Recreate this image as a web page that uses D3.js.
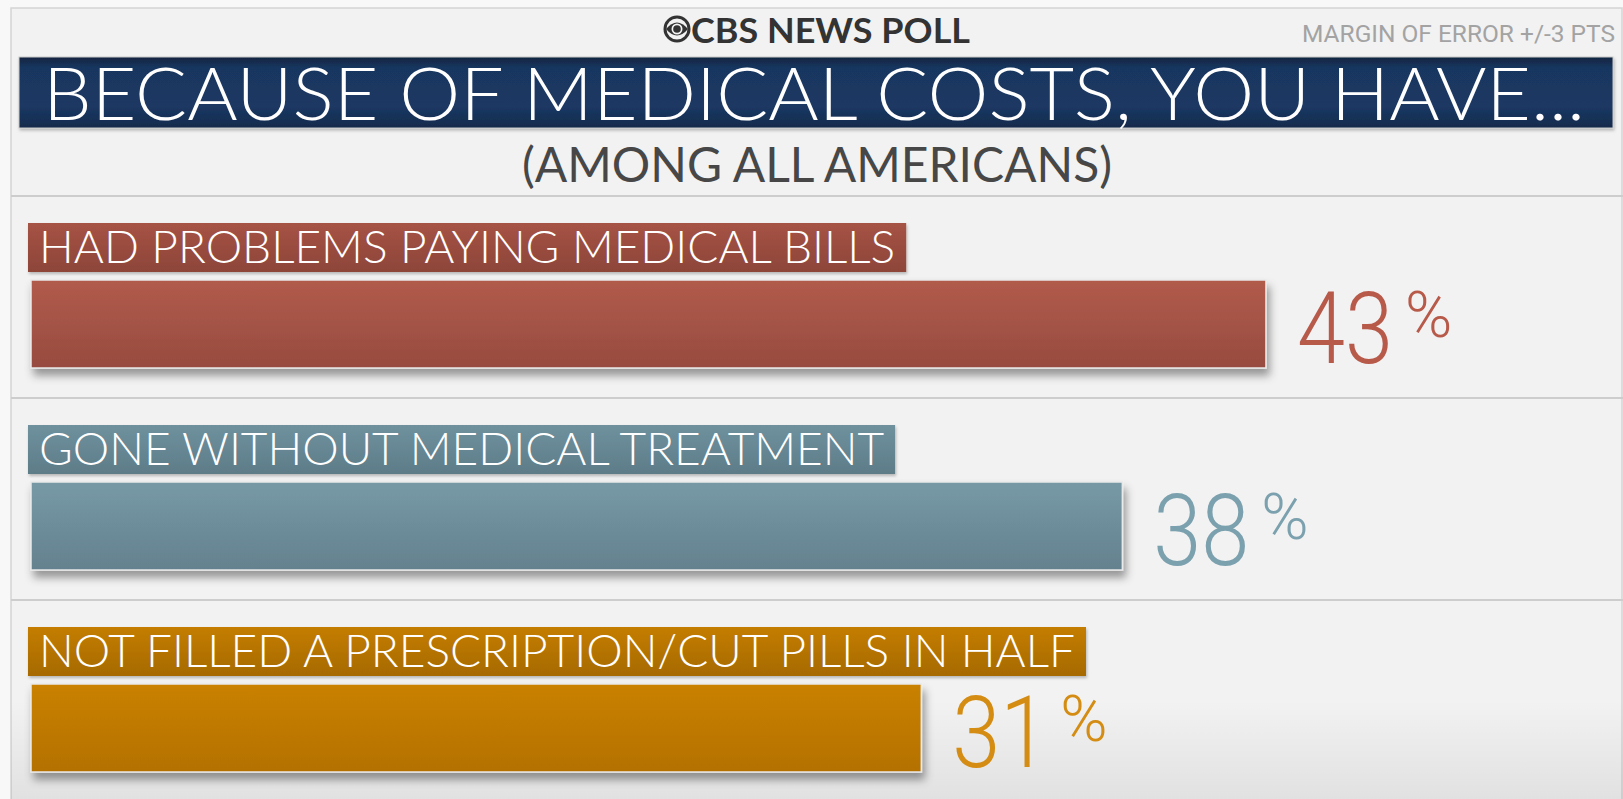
<!DOCTYPE html>
<html>
<head>
<meta charset="utf-8">
<script src="https://cdn.jsdelivr.net/npm/d3@7"></script>
<style>
  body { margin: 0; background: #f7f7f7; }
  svg { display: block; }
</style>
</head>
<body>
<div id="chart"></div>
<script>
// data
var categories = [
  "HAD PROBLEMS PAYING MEDICAL BILLS",
  "GONE WITHOUT MEDICAL TREATMENT",
  "NOT FILLED A PRESCRIPTION/CUT PILLS IN HALF"
];
var values = [43, 38, 31];
var titleText = "BECAUSE OF MEDICAL COSTS, YOU HAVE...";
var subtitleText = "(AMONG ALL AMERICANS)";
var brandText = "CBS NEWS POLL";
var marginText = "MARGIN OF ERROR +/-3 PTS";

// colours per row: [bar top, bar bottom, label top, label bottom, number]
var palette = [
  ["#b15b4c", "#974b3f", "#a65345", "#8d4539", "#b85a4a"],
  ["#7799a6", "#64818e", "#6f919e", "#5d7c88", "#7ba0ae"],
  ["#ca8100", "#b47100", "#c47d00", "#a66a00", "#d48c12"]
];

var svgWidth = 1623;
var svgHeight = 799;

var svg = d3.select("#chart")
  .append("svg")
  .attr("width", svgWidth)
  .attr("height", svgHeight);

var defs = svg.append("defs");

var shadow = defs.append("filter")
  .attr("id", "shadow")
  .attr("x", "-5%").attr("y", "-20%")
  .attr("width", "115%").attr("height", "160%");
shadow.append("feDropShadow")
  .attr("dx", 3).attr("dy", 7)
  .attr("stdDeviation", 4)
  .attr("flood-color", "#000")
  .attr("flood-opacity", 0.38);

var softShadow = defs.append("filter")
  .attr("id", "softShadow")
  .attr("x", "-5%").attr("y", "-20%")
  .attr("width", "110%").attr("height", "150%");
softShadow.append("feDropShadow")
  .attr("dx", 1).attr("dy", 2)
  .attr("stdDeviation", 1.5)
  .attr("flood-color", "#000")
  .attr("flood-opacity", 0.25);

function vGrad(id, stops) {
  var g = defs.append("linearGradient")
    .attr("id", id)
    .attr("x1", 0).attr("y1", 0).attr("x2", 0).attr("y2", 1);
  stops.forEach(function (s) {
    g.append("stop").attr("offset", s[0]).attr("stop-color", s[1]).attr("stop-opacity", s[2] == null ? 1 : s[2]);
  });
}

palette.forEach(function (p, i) {
  vGrad("bar" + i, [[0, p[0]], [1, p[1]]]);
  vGrad("lab" + i, [[0, p[2]], [1, p[3]]]);
});
vGrad("titleGrad", [[0, "#10233f"], [0.15, "#19365f"], [0.7, "#1b3863"], [1, "#132a4b"]]);
vGrad("bottomShade", [[0, "#000", 0], [1, "#000", 0.07]]);

// panel background
svg.append("rect")
  .attr("x", 0).attr("y", 0)
  .attr("width", svgWidth).attr("height", svgHeight)
  .attr("fill", "#f8f8f8");

svg.append("rect")
  .attr("x", 11).attr("y", 8)
  .attr("width", 1611).attr("height", 800)
  .attr("fill", "#f2f2f2")
  .attr("stroke", "#d4d4d4")
  .attr("stroke-width", 1.5);

svg.append("rect")
  .attr("x", 11).attr("y", 700)
  .attr("width", 1612).attr("height", 99)
  .attr("fill", "url(#bottomShade)");

// header
var logo = svg.append("g").attr("transform", "translate(677,29)");
logo.append("circle").attr("r", 12).attr("fill", "none").attr("stroke", "#333").attr("stroke-width", 3);
logo.append("path")
  .attr("d", "M-11,0 Q0,-13 11,0 Q0,13 -11,0 Z")
  .attr("fill", "#333");
logo.append("circle").attr("r", 5.5).attr("fill", "#f2f2f2");
logo.append("circle").attr("r", 3.8).attr("fill", "#333");

svg.append("text")
  .attr("x", 691).attr("y", 43)
  .attr("font-family", "Lato, sans-serif")
  .attr("font-weight", 700)
  .attr("font-size", 35)
  .attr("fill", "#333")
  .attr("textLength", 279)
  .attr("lengthAdjust", "spacingAndGlyphs")
  .text(brandText);

svg.append("text")
  .attr("x", 1615).attr("y", 42)
  .attr("text-anchor", "end")
  .attr("font-family", "Roboto, sans-serif")
  .attr("font-size", 24)
  .attr("fill", "#a3a3a3")
  .attr("textLength", 313)
  .attr("lengthAdjust", "spacingAndGlyphs")
  .text(marginText);

svg.append("rect")
  .attr("x", 19).attr("y", 57)
  .attr("width", 1594).attr("height", 71)
  .attr("fill", "url(#titleGrad)")
  .attr("stroke", "#c9c9c9")
  .attr("stroke-width", 1)
  .attr("filter", "url(#softShadow)");

svg.append("text")
  .attr("x", 43).attr("y", 120)
  .attr("font-family", "Lato, sans-serif")
  .attr("font-weight", 300)
  .attr("font-size", 72)
  .attr("fill", "#fff")
  .attr("textLength", 1542)
  .attr("lengthAdjust", "spacingAndGlyphs")
  .text(titleText);

svg.append("text")
  .attr("x", 817).attr("y", 182)
  .attr("text-anchor", "middle")
  .attr("font-family", "Lato, sans-serif")
  .attr("font-size", 48)
  .attr("fill", "#474747")
  .text(subtitleText);

// scales
var y = d3.scaleBand()
  .domain(categories)
  .range([196, 802]);

var x = d3.scaleLinear()
  .domain([0, 100])
  .range([31, 2903]);

// dividers
svg.selectAll(".divider")
  .data(categories)
  .enter()
  .append("line")
  .attr("class", "divider")
  .attr("x1", 11).attr("x2", 1623)
  .attr("y1", d => y(d)).attr("y2", d => y(d))
  .attr("stroke", "#cdcdcd")
  .attr("stroke-width", 2);

var rows = svg.selectAll(".row")
  .data(categories)
  .enter()
  .append("g")
  .attr("class", "row")
  .attr("transform", d => `translate(0, ${y(d)})`);

// label boxes sized to their text
var labelBoxes = rows.append("rect")
  .attr("x", 28).attr("y", 27)
  .attr("height", 49)
  .attr("fill", (d, i) => `url(#lab${i})`)
  .attr("filter", "url(#softShadow)");

var labels = rows.append("text")
  .attr("x", 39).attr("y", 67)
  .attr("font-family", "Lato, sans-serif")
  .attr("font-weight", 300)
  .attr("font-size", 46)
  .attr("fill", "#fff")
  .text(d => d);

labels.each(function (d, i) {
  var w = this.getComputedTextLength();
  d3.select(labelBoxes.nodes()[i]).attr("width", w + 22);
});

// bars
rows.append("rect")
  .attr("x", x(0))
  .attr("y", 84)
  .attr("width", (d, i) => x(values[i]) - x(0))
  .attr("height", 88)
  .attr("fill", (d, i) => `url(#bar${i})`)
  .attr("stroke", "#e9e9e9")
  .attr("stroke-width", 1.5)
  .attr("filter", "url(#shadow)");

// value labels
rows.append("text")
  .attr("x", (d, i) => x(values[i]) + 31)
  .attr("y", 167)
  .attr("font-family", "Roboto, sans-serif")
  .attr("font-weight", 300)
  .attr("font-size", 100)
  .attr("fill", (d, i) => palette[i][4])
  .attr("textLength", (d, i) => String(values[i]).length * 48)
  .attr("lengthAdjust", "spacingAndGlyphs")
  .text((d, i) => values[i]);

rows.append("text")
  .attr("x", (d, i) => x(values[i]) + 31 + String(values[i]).length * 48 + 12)
  .attr("y", 141)
  .attr("font-family", "Roboto, sans-serif")
  .attr("font-weight", 300)
  .attr("font-size", 64)
  .attr("fill", (d, i) => palette[i][4])
  .text("%");
</script>
</body>
</html>
